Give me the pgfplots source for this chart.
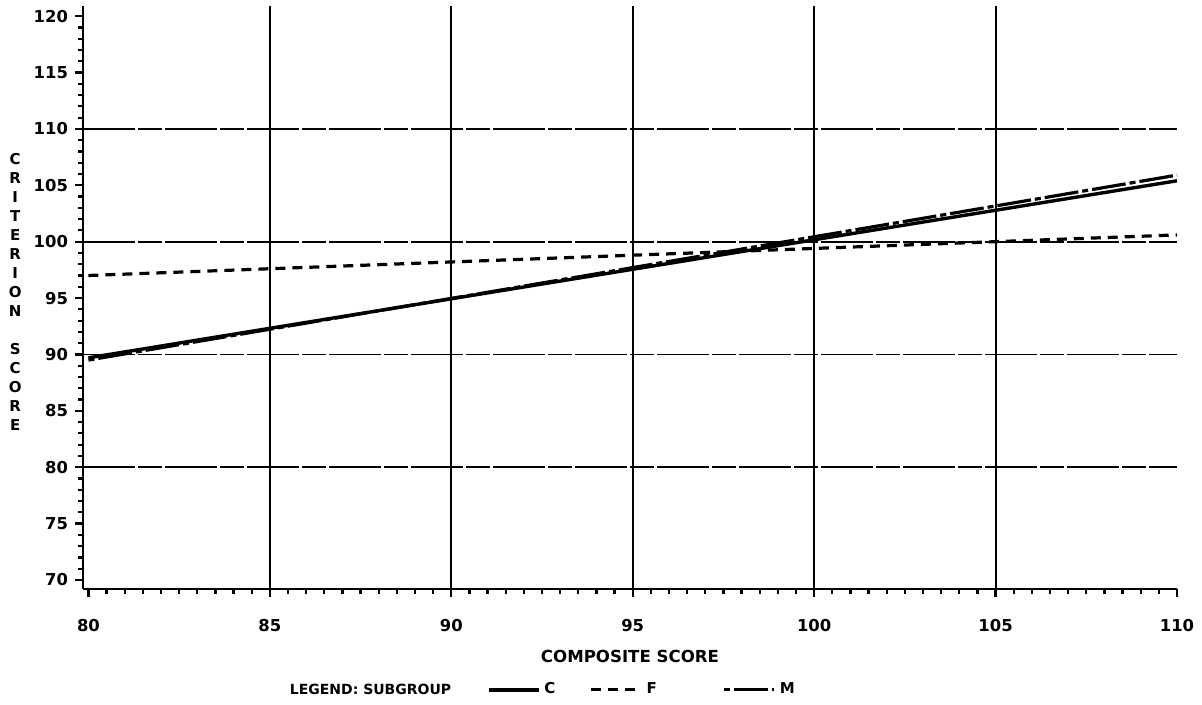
\documentclass[border=0pt]{standalone}
\usepackage{fontspec}
\setmainfont{DejaVu Sans}
\usepackage{pgfplots}
\pgfplotsset{compat=1.18}
\begin{document}
\begin{tikzpicture}
\useasboundingbox (-41.5pt,-58pt) rectangle (559.5pt,294.5pt);
\begin{axis}[
  name=ax,
  at={(0,0)}, anchor=south west,
  scale only axis,
  width=547pt, height=291.5pt,
  xmin=79.85, xmax=110, ymin=69.2, ymax=120.9,
  axis x line=bottom, axis y line=left,
  axis line style={-, line width=1.4pt},
  xtick={80,85,...,110}, ytick={70,75,...,120},
  minor x tick num=9, minor y tick num=4,
  tick align=outside,
  major tick length=4pt, minor tick length=2.5pt,
  every tick/.style={black, line width=1.1pt},
  /pgf/number format/assume math mode=true,
  ticklabel style={font=\bfseries\fontsize{8.2}{9}\selectfont},
  xticklabel style={yshift=-7.5pt},
  extra x ticks={85,90,95,100,105},
  extra x tick labels={,,,,},
  extra x tick style={grid=major, major tick length=0pt,
     major grid style={black, line width=1pt}},
  extra y ticks={80,90,100,110},
  extra y tick labels={,,,},
  extra y tick style={grid=major, major tick length=0pt,
     major grid style={black, line width=0.9pt, dash pattern=on 26pt off 1.5pt on 12pt off 1.5pt}},
  legend style={draw=none, fill=none, at={(0.369,-0.173)}, anchor=west,
     inner sep=0pt, font=\bfseries\fontsize{7.5}{9}\selectfont,
     /tikz/every even column/.append style={column sep=15pt}},
  legend columns=-1,
  legend image code/.code={\draw[#1] (0pt,0pt) -- (25pt,0pt);},
  clip=false,
]
\addplot[black, line width=1.7pt] coordinates {(80,89.7) (110,105.4)};
\addlegendentry{C}
\addplot[black, line width=1.6pt, dash pattern=on 5pt off 3.5pt] coordinates {(80,97.0) (110,100.6)};
\addlegendentry{\makebox[21pt][l]{F}}
\addplot[black, line width=1.6pt, dash pattern=on 3pt off 2pt on 17pt off 2pt] coordinates {(80,89.5) (110,105.9)};
\addlegendentry{M}
\node[anchor=east, font=\bfseries\fontsize{7}{9}\selectfont] at (axis description cs:0.343,-0.173) {LEGEND: SUBGROUP};
\node[font=\bfseries\fontsize{8.3}{9}\selectfont] at (axis description cs:0.5,-0.115) {COMPOSITE SCORE};
\node[align=center, font=\bfseries\fontsize{7.5}{9.5}\selectfont] at (axis description cs:-0.062,0.509) {C\\R\\I\\T\\E\\R\\I\\O\\N\\ \\S\\C\\O\\R\\E};
\end{axis}
\end{tikzpicture}
\end{document}
